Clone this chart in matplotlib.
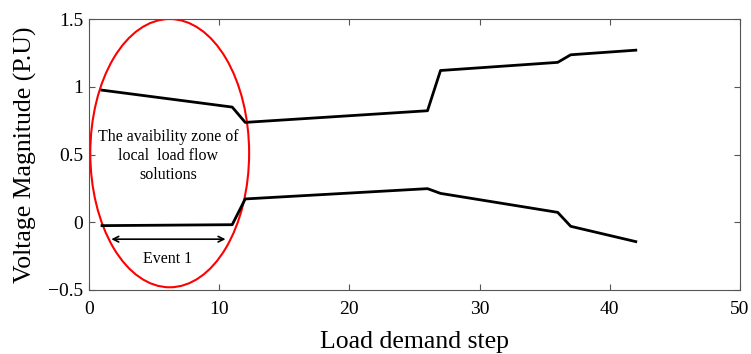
import matplotlib
matplotlib.use("Agg")
import matplotlib.pyplot as plt
from matplotlib.patches import Ellipse

plt.rcParams['font.family'] = ['Liberation Serif', 'DejaVu Serif']

# load steps and the two voltage solutions
steps = [1, 11, 12, 26, 27, 36, 37, 42]
upper = [0.975, 0.85, 0.737, 0.823, 1.12, 1.18, 1.236, 1.27]
lower = [-0.025, -0.018, 0.172, 0.248, 0.213, 0.073, -0.03, -0.143]

xticks = [0, 10, 20, 30, 40, 50]
yticks = [-0.5, 0, 0.5, 1, 1.5]
yticklabels = ['\u22120.5', '0', '0.5', '1', '1.5']

fig = plt.figure(figsize=(7.51, 3.54), dpi=100)
ax = fig.add_axes([0.1185, 0.1808, 0.8668, 0.7655])

ax.plot(steps, upper, color='black', lw=2)
ax.plot(steps, lower, color='black', lw=2)

# availability zone
ax.add_patch(Ellipse((6.2, 0.51), 12.2, 1.98, fill=False, edgecolor='red', lw=1.5))
ax.text(6.1, 0.49, 'The avaibility zone of\nlocal  load flow\nsolutions',
        ha='center', va='center', fontsize=11.5, linespacing=1.25)
ax.annotate('', xy=(1.5, -0.125), xytext=(10.7, -0.125),
            arrowprops=dict(arrowstyle='<->', color='black', lw=1.2))
ax.text(6.0, -0.27, 'Event 1', ha='center', va='center', fontsize=11.5)

ax.set_xlim(0, 50)
ax.set_ylim(-0.5, 1.5)
ax.set_xticks(xticks)
ax.set_yticks(yticks)
ax.set_yticklabels(yticklabels)
ax.tick_params(direction='in', top=True, right=True, labelsize=14, length=4, color='#555555')
ax.tick_params(axis='x', pad=8)
ax.tick_params(axis='y', pad=4)
for s in ax.spines.values():
    s.set_color('#555555')
ax.set_xlabel('Load demand step', fontsize=18.5, labelpad=9)
ax.set_ylabel('Voltage Magnitude (P.U)', fontsize=18.5, labelpad=8)

fig.savefig('out.png', dpi=100)
